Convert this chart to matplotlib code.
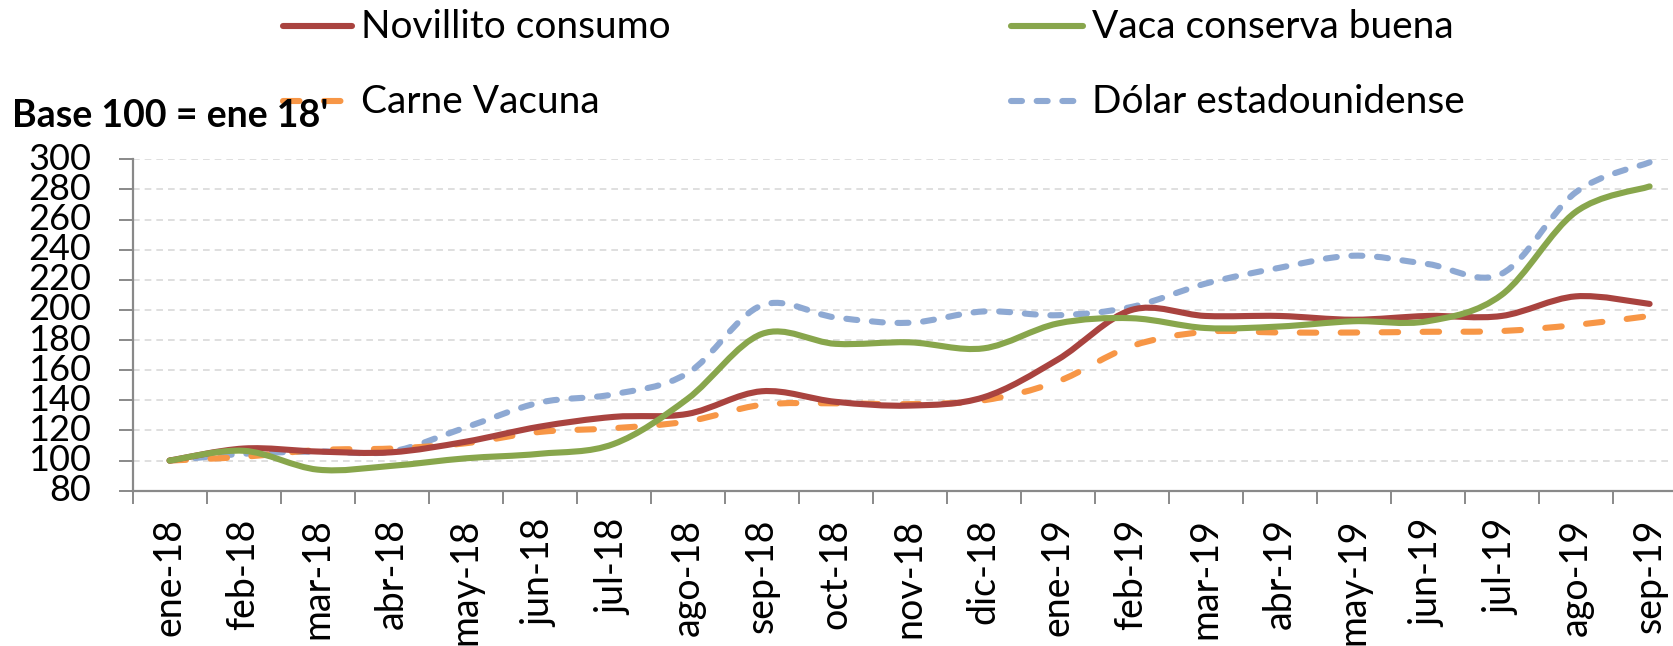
import numpy as np
import matplotlib
matplotlib.use("Agg")
import matplotlib.pyplot as plt
from matplotlib.path import Path
from matplotlib.patches import PathPatch
from matplotlib.lines import Line2D

months = ["ene-18", "feb-18", "mar-18", "abr-18", "may-18", "jun-18", "jul-18",
          "ago-18", "sep-18", "oct-18", "nov-18", "dic-18", "ene-19", "feb-19",
          "mar-19", "abr-19", "may-19", "jun-19", "jul-19", "ago-19", "sep-19"]
novillito = [100, 108, 106, 105.5, 112.5, 122.5, 129, 131, 146, 139, 136.5, 142,
             167, 200, 196, 196, 193.5, 196, 196, 209, 204]
vaca = [100, 106.5, 94, 96.5, 101.5, 104.5, 111, 141, 184, 177.5, 178.5, 174.5,
        191, 194.5, 188, 189, 192.5, 192.5, 210, 265, 282]
carne = [100, 102.5, 107, 108, 111.5, 119, 121.5, 126, 137, 138, 137.5, 140,
         152.5, 176, 185.5, 185, 185, 185.5, 186, 190, 196]
dolar = [100, 104.5, 106, 106, 122, 138.5, 144, 158, 203, 195, 191.5, 199,
         196.5, 202, 217.5, 228, 236, 230.5, 224, 278, 298]
yticks = list(range(80, 301, 20))
series_names = ["Novillito consumo", "Vaca conserva buena", "Carne Vacuna", "Dólar estadounidense"]

W, H = 1673, 646
fig = plt.figure(figsize=(W / 100, H / 100), dpi=100)
FONT = "Lato"
plt.rcParams["font.family"] = [FONT, "DejaVu Sans"]

def fx(x):
    return x / W

def fy(y):
    return 1 - y / H

ax_l, ax_r, ax_t, ax_b = 132.6, 132.6 + 21 * 74, 159.3, 490.7
ax = fig.add_axes([fx(ax_l), fy(ax_b), (ax_r - ax_l) / W, (ax_b - ax_t) / H])

red = "#A9433F"
green = "#88A64C"
orange = "#F79646"
blue = "#8EA9D3"
LW = 4.4
ORANGE_DASH = (0, (2.7, 4.0))
BLUE_DASH = (0, (1.8, 2.4))

def smooth_path(xs, ys):
    xs = np.asarray(xs, float)
    ys = np.asarray(ys, float)
    n = len(xs)
    verts = [(xs[0], ys[0])]
    codes = [Path.MOVETO]
    for i in range(n - 1):
        p0 = (xs[i - 1], ys[i - 1]) if i > 0 else (xs[i], ys[i])
        p1 = (xs[i], ys[i])
        p2 = (xs[i + 1], ys[i + 1])
        p3 = (xs[i + 2], ys[i + 2]) if i + 2 < n else p2
        c1 = (p1[0] + (p2[0] - p0[0]) / 6, p1[1] + (p2[1] - p0[1]) / 6)
        c2 = (p2[0] - (p3[0] - p1[0]) / 6, p2[1] - (p3[1] - p1[1]) / 6)
        verts += [c1, c2, p2]
        codes += [Path.CURVE4] * 3
    return Path(verts, codes)

x = np.arange(len(months))
for vals, col, ls in [(dolar, blue, BLUE_DASH), (carne, orange, ORANGE_DASH),
                      (novillito, red, "-"), (vaca, green, "-")]:
    patch = PathPatch(smooth_path(x, vals), facecolor="none", edgecolor=col,
                      lw=LW, linestyle=ls, capstyle="round", joinstyle="round",
                      zorder=3)
    ax.add_patch(patch)

ax.set_xlim(-0.5, len(months) - 0.5)
ax.set_ylim(80, 300)
ax.set_yticks(yticks)
ax.set_yticklabels([str(v) for v in yticks], fontsize=26, family=[FONT])
ax.set_xticks(x)
ax.set_xticklabels(months, rotation=90, fontsize=27, family=[FONT])
ax.set_xticks(np.arange(len(months) + 1) - 0.5, minor=True)
ax.tick_params(axis="x", which="major", length=0, pad=20)
ax.tick_params(axis="x", which="minor", length=9.5, width=1.4, color="#898989")
ax.tick_params(axis="y", length=10, width=1.4, color="#898989", pad=20)
for lab in ax.get_yticklabels():
    lab.set_verticalalignment("center")

ax.grid(axis="y", color="#D9D9D9", linestyle=(0, (4, 3)), lw=1.2, zorder=0)
for s in ["top", "right"]:
    ax.spines[s].set_visible(False)
for s in ["left", "bottom"]:
    ax.spines[s].set_color("#898989")
    ax.spines[s].set_linewidth(1.6)

# legend (manual, two columns)
leg = [
    (283, 352, 26, 361, 38.5, red, "-", series_names[0]),
    (1011, 1083, 26, 1092, 38.5, green, "-", series_names[1]),
    (283, 352, 101, 361, 113.3, orange, ORANGE_DASH, series_names[2]),
    (1011, 1083, 101, 1092, 113.3, blue, BLUE_DASH, series_names[3]),
]
for x0, x1, yy, tx, ty, col, ls, name in leg:
    fig.add_artist(Line2D([fx(x0), fx(x1)], [fy(yy), fy(yy)], transform=fig.transFigure,
                          color=col, lw=LW, linestyle=ls, solid_capstyle="round",
                          dash_capstyle="round", zorder=1))
    fig.text(fx(tx), fy(ty), name, fontsize=28, va="baseline", ha="left",
             family=[FONT, "DejaVu Sans"])

fig.text(fx(12), fy(126.7), "Base 100 = ene 18'", fontsize=27, fontweight="bold",
         va="baseline", ha="left", family=[FONT, "DejaVu Sans"], zorder=5)

fig.savefig("out.png", dpi=100)
